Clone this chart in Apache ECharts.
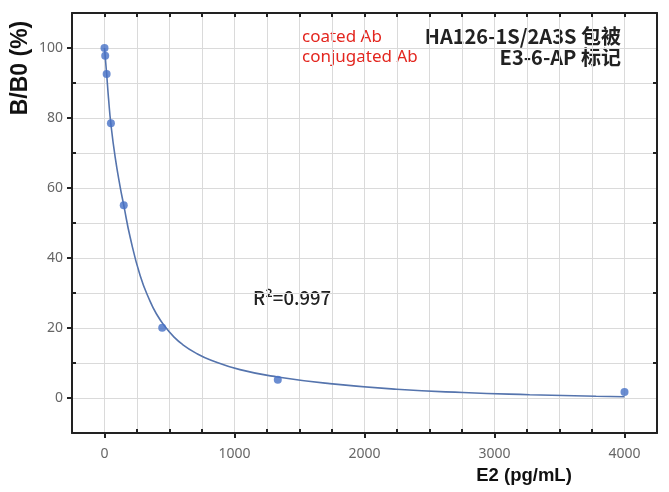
<!DOCTYPE html>
<html><head><meta charset="utf-8">
<script src="https://cdn.jsdelivr.net/npm/echarts@6/dist/echarts.min.js"></script>
<style>html,body{margin:0;padding:0;background:#fff}#c{width:669px;height:492px}</style>
</head><body><div id="c"></div>
<script>
// Standards (E2 pg/mL) and measured B/B0 (%)
const e2Std = [0, 5.5, 16.5, 49.4, 148, 444, 1333, 4000];
const bb0 = [100, 97.8, 92.6, 78.5, 55.1, 20.1, 5.2, 1.7];
// Fitted curve
const fitX = [0, 16.5, 31, 49, 82, 120, 148, 197, 274, 351, 400, 465, 530, 600, 700, 820, 1042, 1332, 1733, 2246, 2757, 3270, 3782, 4000];
const fitY = [100, 92.6, 85.6, 78.3, 68.8, 60.4, 55.1, 46.0, 35.0, 27.6, 24.0, 20.4, 17.6, 15.3, 12.9, 10.8, 8.1, 6.0, 4.1, 2.5, 1.55, 0.95, 0.5, 0.35];
// Ticks
const xLabelValues = [0, 1000, 2000, 3000, 4000];
const xMinorTicks = [250, 500, 750, 1250, 1500, 1750, 2250, 2500, 2750, 3250, 3500, 3750];
const yLabelValues = [0, 20, 40, 60, 80, 100];
const yMinorTicks = [10, 30, 50, 70, 90];

const chart = echarts.init(document.getElementById('c'), null, {renderer: 'canvas'});
const axisColor = '#222';
const xc = {type: 'value', min: -250, max: 4250, interval: 250};
const yc = {type: 'value', min: -10, max: 110, interval: 10};
const lblFont = {color: '#666', fontSize: 14, fontFamily: 'Noto Sans', formatter: v => String(v)};
const lineSt = {color: axisColor, width: 2};
const off = {show: false};

chart.setOption({
  animation: false,
  grid: {left: 72, right: 12, top: 13, bottom: 59, containLabel: false},
  xAxis: [
    Object.assign({}, xc, {position: 'bottom', offset: 0,
      axisLine: {onZero: false, lineStyle: lineSt},
      axisTick: {inside: false, length: 5, customValues: xLabelValues, lineStyle: lineSt},
      axisLabel: Object.assign({customValues: xLabelValues, margin: 14}, lblFont),
      splitLine: off}),
    Object.assign({}, xc, {position: 'bottom', offset: 0,
      axisLine: {show: false, onZero: false},
      axisTick: {inside: true, length: 4, customValues: xMinorTicks, lineStyle: lineSt},
      axisLabel: off, splitLine: off}),
    Object.assign({}, xc, {position: 'top', offset: 0,
      axisLine: {onZero: false, lineStyle: lineSt},
      axisTick: {inside: true, length: 4, lineStyle: lineSt},
      axisLabel: off, splitLine: off}),
    Object.assign({}, xc, {position: 'bottom', offset: 0,
      axisLine: {show: false, onZero: false}, axisTick: off, axisLabel: off,
      splitLine: {show: true, lineStyle: {color: '#dadada', width: 1}}})
  ],
  yAxis: [
    Object.assign({}, yc, {position: 'left', offset: 0,
      axisLine: {onZero: false, lineStyle: lineSt},
      axisTick: {inside: false, length: 5, customValues: yLabelValues, lineStyle: lineSt},
      axisLabel: Object.assign({customValues: yLabelValues, margin: 9}, lblFont),
      splitLine: off}),
    Object.assign({}, yc, {position: 'left', offset: 0,
      axisLine: {show: false, onZero: false},
      axisTick: {inside: true, length: 4, customValues: yMinorTicks, lineStyle: lineSt},
      axisLabel: off, splitLine: off}),
    Object.assign({}, yc, {position: 'right', offset: 0,
      axisLine: {onZero: false, lineStyle: lineSt},
      axisTick: {inside: true, length: 4, customValues: yMinorTicks, lineStyle: lineSt},
      axisLabel: off, splitLine: off}),
    Object.assign({}, yc, {position: 'left', offset: 0,
      axisLine: {show: false, onZero: false}, axisTick: off, axisLabel: off,
      splitLine: {show: true, lineStyle: {color: '#dadada', width: 1}}})
  ],
  series: [
    {type: 'line', xAxisIndex: 0, yAxisIndex: 0, smooth: 0.5, showSymbol: false,
     lineStyle: {color: '#5574ad', width: 1.6},
     data: fitX.map((x, i) => [x, fitY[i]]), z: 3},
    {type: 'scatter', xAxisIndex: 0, yAxisIndex: 0, symbolSize: 8,
     itemStyle: {color: '#4670c6'},
     data: e2Std.map((x, i) => [x, bb0[i]]), z: 4}
  ],
  graphic: [
    {type: 'text', x: 21, y: 68, rotation: Math.PI / 2,
     style: {text: 'B/B0 (%)', font: 'bold 23px "Liberation Sans", Arial, sans-serif', fill: '#111', align: 'center', verticalAlign: 'middle'}},
    {type: 'text', x: 524, y: 476,
     style: {text: 'E2 (pg/mL)', font: 'bold 18.5px "Liberation Sans", Arial, sans-serif', fill: '#111', align: 'center', verticalAlign: 'middle'}},
    {type: 'text', x: 302, y: 37,
     style: {text: 'coated Ab', font: '17px "Noto Sans", sans-serif', fill: '#e3261f', align: 'left', verticalAlign: 'middle'}},
    {type: 'text', x: 302, y: 57,
     style: {text: 'conjugated Ab', font: '17px "Noto Sans", sans-serif', fill: '#e3261f', align: 'left', verticalAlign: 'middle'}},
    {type: 'text', x: 621, y: 36,
     style: {text: 'HA126-1S/2A3S 包被', font: '600 20px "Noto Sans CJK SC", sans-serif', fill: '#222', align: 'right', verticalAlign: 'middle'}},
    {type: 'text', x: 621, y: 57,
     style: {text: 'E3-6-AP 标记', font: '600 20px "Noto Sans CJK SC", sans-serif', fill: '#222', align: 'right', verticalAlign: 'middle'}},
    {type: 'text', x: 253, y: 298,
     style: {text: 'R²=0.997', font: '500 18.5px "Noto Sans CJK SC", sans-serif', fill: '#222', align: 'left', verticalAlign: 'middle'}}
  ]
});
</script>
</body></html>
